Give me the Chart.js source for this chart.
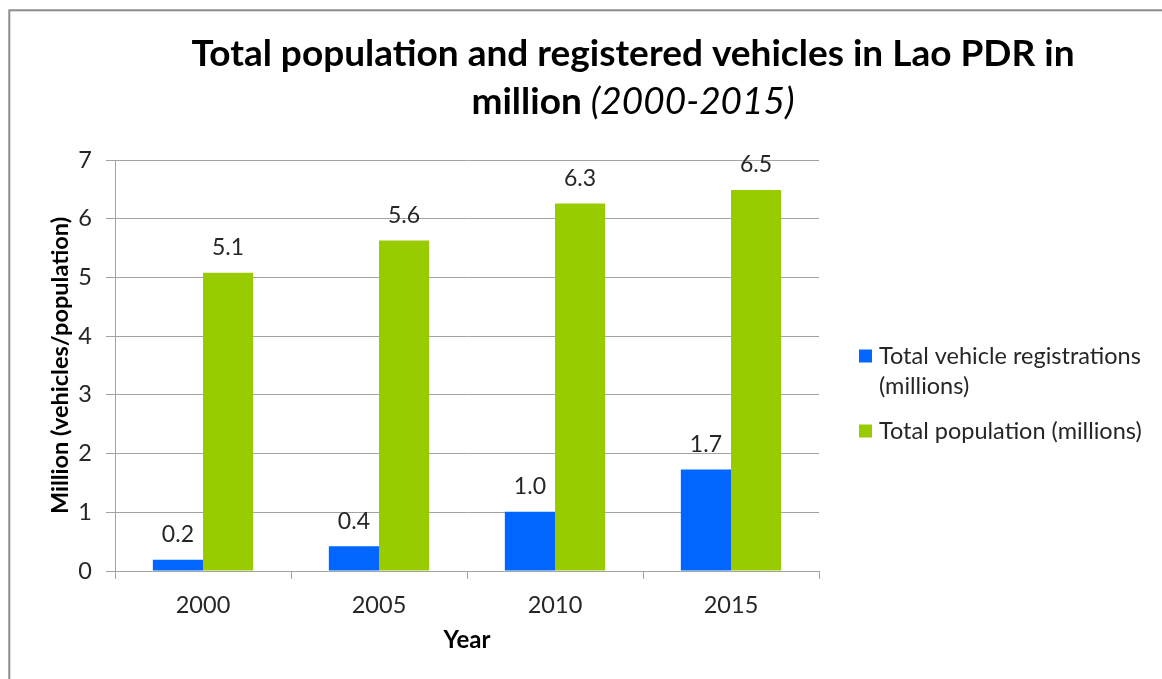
<!DOCTYPE html>
<html>
<head>
<meta charset="utf-8">
<title>Total population and registered vehicles in Lao PDR</title>
<script src="https://cdn.jsdelivr.net/npm/chart.js@4.4.1/dist/chart.umd.min.js"></script>
<style>
  html, body { margin: 0; padding: 0; background: #ffffff; }
  #chart { display: block; }
</style>
</head>
<body>
<canvas id="chart" width="1162" height="679"></canvas>
<script>
// Survey years on the category axis
const years = ['2000', '2005', '2010', '2015'];

// Registered vehicles, in millions
const vehicles = [0.19, 0.42, 1.01, 1.73];

// Total population, in millions
const population = [5.08, 5.63, 6.26, 6.49];

// Series names as shown in the legend (one entry per line)
const vehicleName = ['Total vehicle registrations', '(millions)'];
const populationName = ['Total population (millions)'];

// Value axis range and step
const yMin = 0;
const yMax = 7;
const yStep = 1;

const titleLine1 = 'Total population and registered vehicles in Lao PDR in';
const titleLine2Bold = 'million ';
const titleLine2Italic = '(2000-2015)';
const yAxisTitle = 'Million (vehicles/population)';
const xAxisTitle = 'Year';

const FONT = 'Lato, "Open Sans", "DejaVu Sans", sans-serif';
const TEXT = '#262626';
const GRID = '#a3a3a3';

// White background plus the outer frame of the chart object
const framePlugin = {
  id: 'frame',
  beforeDraw(chart) {
    const ctx = chart.ctx;
    ctx.save();
    ctx.fillStyle = '#ffffff';
    ctx.fillRect(0, 0, chart.width, chart.height);
    ctx.strokeStyle = '#8c8c8c';
    ctx.lineWidth = 2;
    ctx.strokeRect(9.3, 10.3, chart.width + 20, chart.height + 20);
    ctx.restore();
  }
};

// Two-line title with an italic year range on the second line
const titlePlugin = {
  id: 'mixedTitle',
  afterDraw(chart) {
    const ctx = chart.ctx;
    const cx = 633;
    ctx.save();
    ctx.fillStyle = '#000000';
    ctx.textBaseline = 'alphabetic';
    ctx.textAlign = 'left';
    const boldFont = 'bold 37px ' + FONT;
    const italicFont = 'italic 37px ' + FONT;
    ctx.font = boldFont;
    const w1 = ctx.measureText(titleLine1).width;
    ctx.fillText(titleLine1, cx - w1 / 2, 66);
    const wb = ctx.measureText(titleLine2Bold).width;
    ctx.font = italicFont;
    const wi = ctx.measureText(titleLine2Italic).width;
    const start = cx - (wb + wi) / 2;
    ctx.font = boldFont;
    ctx.fillText(titleLine2Bold, start, 114);
    ctx.font = italicFont;
    ctx.fillText(titleLine2Italic, start + wb, 114);
    ctx.restore();
  }
};

// Value labels above each bar
const valueLabelPlugin = {
  id: 'valueLabels',
  afterDatasetsDraw(chart) {
    const ctx = chart.ctx;
    ctx.save();
    ctx.font = '23px ' + FONT;
    ctx.fillStyle = TEXT;
    ctx.textAlign = 'center';
    ctx.textBaseline = 'middle';
    chart.data.datasets.forEach((ds, i) => {
      chart.getDatasetMeta(i).data.forEach((bar, j) => {
        ctx.fillText(ds.data[j].toFixed(1), bar.x, bar.y - 25);
      });
    });
    ctx.restore();
  }
};

// Legend to the right of the plot, with wrapped series names
const sideLegendPlugin = {
  id: 'sideLegend',
  afterDraw(chart) {
    const ctx = chart.ctx;
    const items = [
      { lines: vehicleName, color: chart.data.datasets[0].backgroundColor, y: 356 },
      { lines: populationName, color: chart.data.datasets[1].backgroundColor, y: 431 }
    ];
    ctx.save();
    ctx.font = '23.5px ' + FONT;
    ctx.textAlign = 'left';
    ctx.textBaseline = 'middle';
    items.forEach(item => {
      ctx.fillStyle = item.color;
      ctx.fillRect(859, item.y - 6.5, 13, 13);
      ctx.fillStyle = TEXT;
      item.lines.forEach((line, k) => {
        ctx.fillText(line, 879, item.y + k * 30);
      });
    });
    ctx.restore();
  }
};

new Chart(document.getElementById('chart'), {
  type: 'bar',
  data: {
    labels: years,
    datasets: [
      {
        label: vehicleName.join(' '),
        data: vehicles,
        backgroundColor: '#0066ff',
        categoryPercentage: 0.57,
        barPercentage: 1.0
      },
      {
        label: populationName.join(' '),
        data: population,
        backgroundColor: '#99cc00',
        categoryPercentage: 0.57,
        barPercentage: 1.0
      }
    ]
  },
  options: {
    responsive: false,
    devicePixelRatio: 1,
    animation: false,
    layout: { padding: { top: 160, right: 343, left: 0, bottom: 0 } },
    plugins: {
      legend: { display: false },
      title: { display: false },
      tooltip: { enabled: false }
    },
    scales: {
      x: {
        afterFit(scale) { scale.height = 108; },
        grid: {
          offset: true,
          drawOnChartArea: false,
          drawTicks: true,
          tickLength: 8,
          color: GRID
        },
        border: { color: GRID, width: 1 },
        ticks: {
          padding: 12,
          color: TEXT,
          font: { family: FONT, size: 23.5 }
        },
        title: {
          display: true,
          text: xAxisTitle,
          color: '#000000',
          font: { family: FONT, size: 24, weight: 'bold' },
          padding: { top: 0, bottom: 24 }
        }
      },
      y: {
        min: yMin,
        max: yMax,
        afterFit(scale) { scale.width = 115; },
        grid: {
          color: GRID,
          tickLength: 9,
          drawTicks: true
        },
        border: { color: GRID, width: 1 },
        ticks: {
          stepSize: yStep,
          padding: 14,
          color: TEXT,
          font: { family: FONT, size: 23.5 }
        },
        title: {
          display: true,
          text: yAxisTitle,
          color: '#000000',
          font: { family: FONT, size: 23.5, weight: 'bold' },
          padding: { top: 46, bottom: 0 }
        }
      }
    }
  },
  plugins: [framePlugin, titlePlugin, valueLabelPlugin, sideLegendPlugin]
});
</script>
</body>
</html>
